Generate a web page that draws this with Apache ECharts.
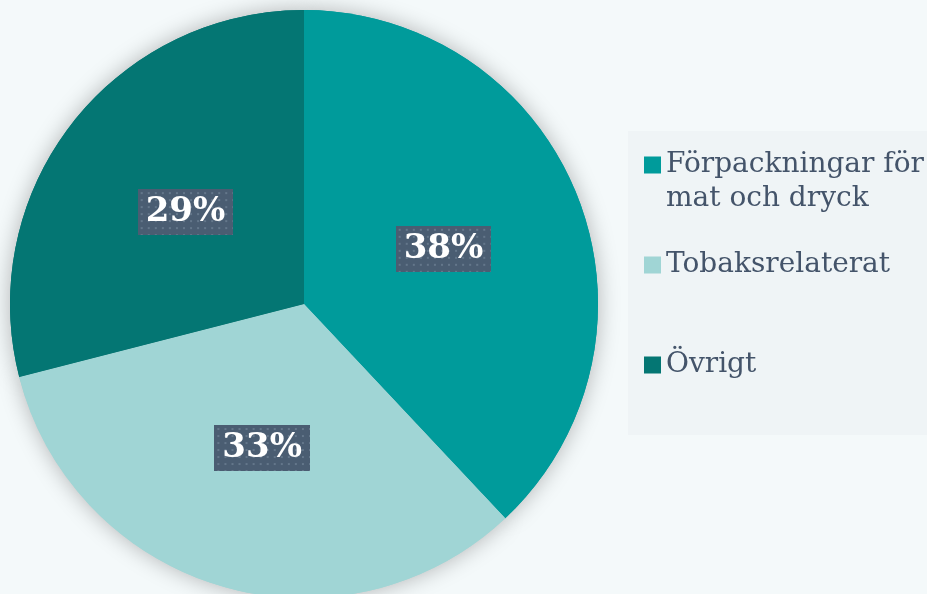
<!DOCTYPE html>
<html>
<head>
<meta charset="utf-8">
<script src="https://cdn.jsdelivr.net/npm/echarts@6/dist/echarts.min.js"></script>
<style>
  html, body { margin: 0; padding: 0; background: #f4f9fa; }
  #chart { width: 927px; height: 594px; }
</style>
</head>
<body>
<div id="chart"></div>
<script>
// andelar per kategori
var categories = ['Förpackningar för\nmat och dryck', 'Tobaksrelaterat', 'Övrigt'];
var shares = [38, 33, 29];
var colors = ['#009b9b', '#a0d5d5', '#047673'];

var serif = '"DejaVu Serif", "Liberation Serif", serif';

// prickig bakgrund till etiketterna
function dotCanvas(w, h) {
  var c = document.createElement('canvas');
  c.width = w; c.height = h;
  var ctx = c.getContext('2d');
  ctx.fillStyle = '#4a5d72';
  ctx.fillRect(0, 0, w, h);
  ctx.fillStyle = 'rgba(150,170,185,0.35)';
  for (var y = 3; y < h; y += 7) {
    for (var x = 3; x < w; x += 7) {
      ctx.fillRect(x, y, 2, 2);
    }
  }
  return c;
}
var dots = dotCanvas(95, 46);

var data = categories.map(function (name, i) {
  return { name: name, value: shares[i], itemStyle: { color: colors[i] } };
});

function legendFor(i, top, lead) {
  return {
    orient: 'vertical',
    left: 644,
    top: top,
    padding: 0,
    itemWidth: 17,
    itemHeight: 17,
    itemGap: 7,
    icon: 'rect',
    selectedMode: false,
    data: [categories[i]],
    // tom första rad så att ikonen hamnar vid textens första rad
    formatter: function (n) { return lead ? '\n' + n : n; },
    textStyle: { fontFamily: serif, fontSize: 28, lineHeight: 34, color: '#44546a' }
  };
}

var chart = echarts.init(document.getElementById('chart'));
chart.setOption({
  backgroundColor: '#f4f9fa',
  animation: false,
  graphic: [{
    type: 'rect',
    shape: { x: 628, y: 131, width: 310, height: 304 },
    style: { fill: '#eff4f6' },
    z: -1
  }],
  legend: [
    legendFor(0, 114, true),
    legendFor(1, 248, false),
    legendFor(2, 348, false)
  ],
  series: [{
    type: 'pie',
    silent: true,
    center: [304, 304],
    radius: 294,
    startAngle: 90,
    data: data,
    label: { show: false },
    labelLine: { show: false },
    itemStyle: { shadowBlur: 22, shadowColor: 'rgba(0,0,0,0.28)' },
    z: 1
  }, {
    type: 'pie',
    center: [304, 304],
    radius: 294,
    startAngle: 90,
    data: data,
    itemStyle: { borderWidth: 0 },
    labelLine: { show: false },
    label: {
      show: true,
      position: 'inside',
      formatter: function (p) { return p.value + '%'; },
      fontFamily: serif,
      fontWeight: 'bold',
      fontSize: 34,
      lineHeight: 36,
      color: '#ffffff',
      backgroundColor: { image: dots },
      padding: [6, 8, 4, 8],
      shadowBlur: 6,
      shadowOffsetX: 3,
      shadowOffsetY: 3,
      shadowColor: 'rgba(0,0,0,0.35)'
    },
    emphasis: { disabled: true },
    z: 2
  }]
});
</script>
</body>
</html>
